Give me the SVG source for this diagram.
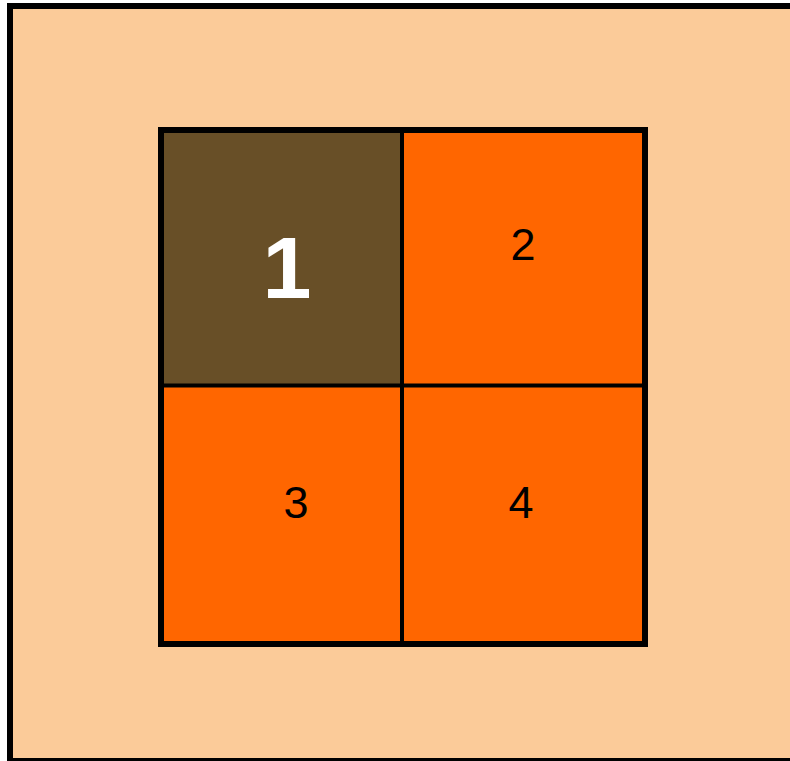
<svg xmlns="http://www.w3.org/2000/svg" width="790" height="761" viewBox="0 0 790 761">
<style>
.o{fill:#FF6600}
.t{font-family:"Liberation Sans",Arial,sans-serif;font-size:45px;fill:#000;text-anchor:middle}
.ln{stroke:#000;stroke-width:4}
</style>
<rect width="790" height="761" fill="#fff"/>
<g id="frame"><rect x="10" y="6" width="800" height="755" fill="#FBCB99" stroke="#000" stroke-width="6"/></g>
<g id="cell1"><rect x="161" y="130" width="241" height="255.5" fill="#684F27"/><text x="287" y="298" style="font-family:'Liberation Sans',Arial,sans-serif;font-size:88px;font-weight:bold;fill:#fff;text-anchor:middle">1</text></g>
<g id="cell2"><rect class="o" x="402" y="130" width="243" height="255.5"/><text class="t" x="523" y="260">2</text></g>
<g id="cell3"><rect class="o" x="161" y="385.5" width="241" height="258.5"/><text class="t" x="296" y="518">3</text></g>
<g id="cell4"><rect class="o" x="402" y="385.5" width="243" height="258.5"/><text class="t" x="521" y="518">4</text></g>
<g id="connectors">
<line class="ln" x1="402" y1="130" x2="402" y2="644"/>
<line class="ln" x1="161" y1="385.5" x2="645" y2="385.5"/>
<rect x="161" y="130" width="484" height="514" fill="none" stroke="#000" stroke-width="6"/>
</g>
</svg>
